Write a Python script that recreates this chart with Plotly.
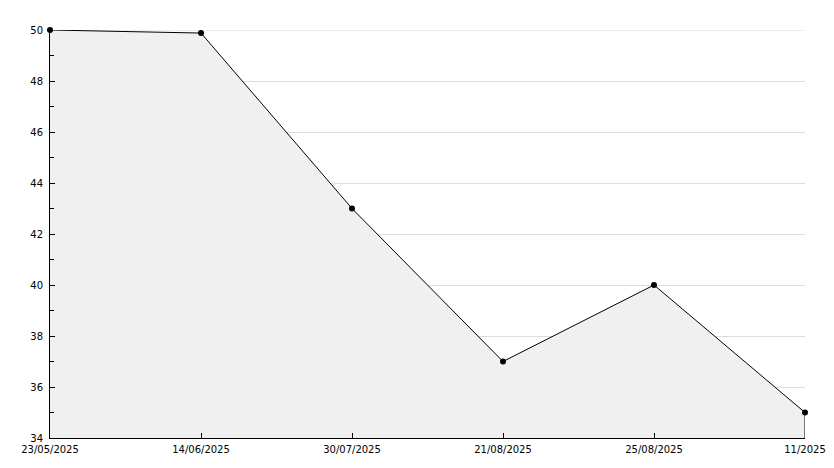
import plotly.graph_objects as go

dates = ["23/05/2025", "14/06/2025", "30/07/2025", "21/08/2025", "25/08/2025", "11/2025"]
values = [50, 49.88, 43, 37, 40, 35]
y_ticks = [34, 36, 38, 40, 42, 44, 46, 48, 50]
y_min, y_max = 34, 50

xs = list(range(len(dates)))

fig = go.Figure()
fig.add_trace(go.Scatter(
    x=xs, y=values, mode="lines+markers",
    fill="tozeroy", fillcolor="#f0f0f0",
    line=dict(color="black", width=1),
    marker=dict(color="black", size=6, symbol="circle"),
    cliponaxis=False, hoverinfo="skip",
))
fig.add_trace(go.Scatter(
    x=[xs[-1], xs[-1]], y=[values[-1], y_min], mode="lines",
    line=dict(color="black", width=1), hoverinfo="skip",
))
fig.add_hline(y=y_max, line=dict(color="#dddddd", width=1), layer="below")

# page body has an 8px margin; compensate so the plot area lands at 50..805 x 30..438
fig.update_layout(
    width=826, height=460,
    margin=dict(l=42, r=29, t=22, b=30),
    paper_bgcolor="white", plot_bgcolor="white",
    showlegend=False,
    font=dict(family="DejaVu Sans", size=10, color="black"),
)
fig.update_xaxes(
    range=[0, len(dates) - 1], tickvals=xs, ticktext=dates,
    showgrid=False, zeroline=False, automargin=False, ticklabelstandoff=2,
    showline=True, linecolor="black", linewidth=1,
    ticks="inside", ticklen=5, tickcolor="black",
)
fig.update_yaxes(
    range=[y_min, y_max], tickvals=y_ticks,
    showgrid=True, gridcolor="#dddddd", gridwidth=1, zeroline=False,
    automargin=False, ticklabelstandoff=4,
    showline=True, linecolor="black", linewidth=1,
    ticks="inside", ticklen=5, tickcolor="black",
    minor=dict(dtick=1, ticks="inside", ticklen=4, tickcolor="black", showgrid=False),
)
fig.write_html("out.html")
